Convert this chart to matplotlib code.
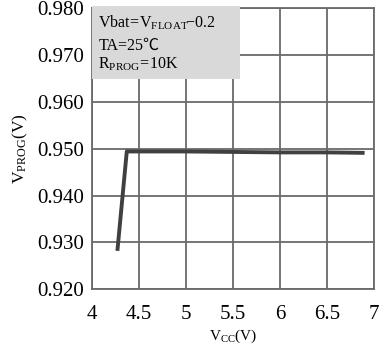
import matplotlib.pyplot as plt
from matplotlib.patches import Rectangle

plt.rcParams['font.family'] = ['Liberation Serif', 'Noto Sans CJK SC', 'DejaVu Serif']
plt.rcParams['mathtext.fontset'] = 'custom'
plt.rcParams['mathtext.rm'] = 'Liberation Serif'

# VPROG vs VCC
vcc = [4.27, 4.37, 5.0, 5.5, 6.0, 6.5, 6.90]
vprog = [0.9282, 0.9494, 0.9494, 0.9493, 0.9492, 0.9492, 0.9491]

xticks = [4, 4.5, 5, 5.5, 6, 6.5, 7]
xticklabels = ['4', '4.5', '5', '5.5', '6', '6.5', '7']
yticks = [0.920, 0.930, 0.940, 0.950, 0.960, 0.970, 0.980]

fig = plt.figure(figsize=(3.81, 3.49), dpi=100)
ax = fig.add_axes([92 / 381, 1 - 289.3 / 349, 282 / 381, 281.3 / 349])

ax.plot(vcc, vprog, color='#404040', lw=2.8, solid_capstyle='butt', zorder=3)

ax.set_xlim(4, 7)
ax.set_ylim(0.920, 0.980)
ax.set_xticks(xticks)
ax.set_xticklabels(xticklabels)
ax.set_yticks(yticks)
ax.set_yticklabels(['%.3f' % v for v in yticks])
ax.tick_params(length=0, labelsize=15, colors='black')
ax.tick_params(axis='x', pad=11)
ax.tick_params(axis='y', pad=6)
ax.grid(True, color='#6a6a6a', lw=1.3)
ax.set_axisbelow(True)
for s in ax.spines.values():
    s.set_color('#6a6a6a')
    s.set_linewidth(1.3)

ax.set_xlabel(r'$\mathrm{V_{CC}(V)}$', fontsize=11, labelpad=3)
ax.set_ylabel(r'$\mathrm{V_{PROG}(V)}$', fontsize=12.5, labelpad=5)

# condition box
ax.add_patch(Rectangle((0, 0.748), 0.525, 0.26, transform=ax.transAxes,
                       facecolor='#d9d9d9', edgecolor='none', zorder=4,
                       clip_on=False))
ax.text(0.022, 0.930, r'$\mathrm{Vbat\!=\!V_{FLOAT}\!\!-\!0.2}$', transform=ax.transAxes,
        fontsize=11.5, va='baseline', zorder=5)
ax.text(0.022, 0.851, 'TA=25℃', transform=ax.transAxes,
        fontsize=11.5, va='baseline', zorder=5)
ax.text(0.022, 0.783, r'$\mathrm{R_{PROG}\!=\!10K}$', transform=ax.transAxes,
        fontsize=11.5, va='baseline', zorder=5)

fig.savefig('out.png', dpi=100)
